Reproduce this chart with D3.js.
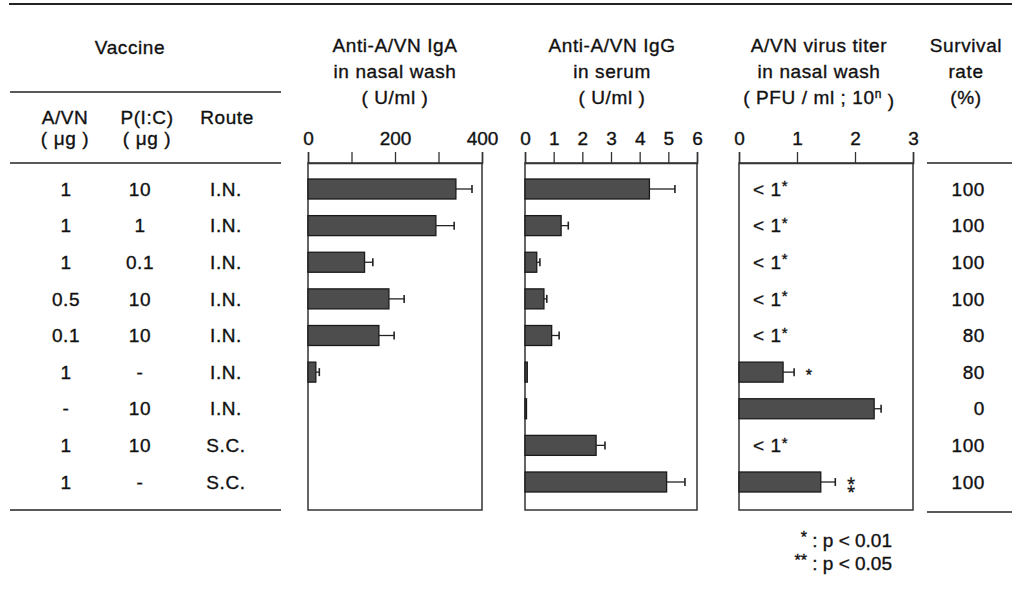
<!DOCTYPE html>
<html>
<head>
<meta charset="utf-8">
<script src="https://cdn.jsdelivr.net/npm/d3@7"></script>
<style>
  body { margin: 0; background: #fff; }
  text { font-family: "Liberation Sans", Arial, sans-serif; fill: #111; stroke: #111; stroke-width: 0.35; }
</style>
</head>
<body>
<div id="chart"></div>
<script>
const width = 1019
const height = 591

// table data
const avn = ["1", "1", "1", "0.5", "0.1", "1", "-", "1", "1"]
const pic = ["10", "1", "0.1", "10", "10", "-", "10", "10", "-"]
const route = ["I.N.", "I.N.", "I.N.", "I.N.", "I.N.", "I.N.", "I.N.", "S.C.", "S.C."]
const survival = ["100", "100", "100", "100", "80", "80", "0", "100", "100"]

// IgA in nasal wash (U/ml)
const igaMean = [340, 294, 130, 186, 163, 18, null, null, null]
const igaErr = [37, 42, 19, 35, 35, 8, null, null, null]
// IgG in serum (U/ml)
const iggMean = [4.34, 1.26, 0.41, 0.66, 0.93, 0.08, 0.02, 2.48, 4.94]
const iggErr = [0.89, 0.25, 0.11, 0.1, 0.26, 0, 0, 0.31, 0.64]
// virus titer (10^n PFU/ml)
const titerMean = [null, null, null, null, null, 0.76, 2.33, null, 1.41]
const titerErr = [null, null, null, null, null, 0.19, 0.12, null, 0.25]
const titerNote = ["< 1", "< 1", "< 1", "< 1", "< 1", "", "", "< 1", ""]
const titerStars = [0, 0, 0, 0, 0, 1, 0, 0, 2]

const rows = d3.range(9)

const svg = d3.select("#chart").append("svg").attr("width", width).attr("height", height)

const fs = 19
const boxTop = 163, boxBottom = 510

const y = d3.scalePoint().domain(rows).range([189, 482])
const barH = 20

// lines of the table
svg.append("line").attr("x1", 9).attr("x2", 1012).attr("y1", 4).attr("y2", 4)
    .attr("stroke", "#222").attr("stroke-width", 2)
;[92, 163, 510].forEach(yy => {
    svg.append("line").attr("x1", 10).attr("x2", 281).attr("y1", yy).attr("y2", yy)
        .attr("stroke", "#222").attr("stroke-width", 1.6)
})
;[163, 512].forEach(yy => {
    svg.append("line").attr("x1", 927).attr("x2", 1012).attr("y1", yy).attr("y2", yy)
        .attr("stroke", "#222").attr("stroke-width", 1.6)
})

function label(x, yy, txt, anchor) {
    return svg.append("text").attr("x", x).attr("y", yy).attr("dy", "0.35em")
        .attr("text-anchor", anchor || "middle").attr("font-size", fs)
        .attr("letter-spacing", 0.6).text(txt)
}

// headers
label(130, 47, "Vaccine")
label(65, 117, "A/VN"); label(65, 138, "( μg )")
label(147, 117, "P(I:C)"); label(147, 138, "( μg )")
label(227, 117, "Route")

label(395, 45, "Anti-A/VN IgA"); label(395, 71, "in nasal wash"); label(395, 97, "( U/ml )")
label(612, 45, "Anti-A/VN IgG"); label(612, 71, "in serum"); label(612, 97, "( U/ml )")
label(819, 45, "A/VN virus titer"); label(819, 71, "in nasal wash")
const pfu = label(819, 97, "( PFU / ml ; 10")
pfu.append("tspan").attr("dy", "-0.45em").attr("font-size", 12).text("n")
pfu.append("tspan").attr("dy", "0.45em").text(" )")
label(966, 45, "Survival"); label(966, 71, "rate"); label(966, 97, "(%)")

// table rows
rows.forEach(i => {
    label(66, y(i), avn[i])
    label(140, y(i), pic[i])
    label(226, y(i), route[i])
    label(985, y(i), survival[i], "end")
})

// panels
const panels = [
    { x0: 308, x1: 482, domain: [0, 400], ticks: [0, 100, 200, 300, 400], labels: [0, 200, 400], mean: igaMean, err: igaErr },
    { x0: 525, x1: 697, domain: [0, 6], ticks: [0, 1, 2, 3, 4, 5, 6], labels: [0, 1, 2, 3, 4, 5, 6], mean: iggMean, err: iggErr },
    { x0: 739, x1: 913, domain: [0, 3], ticks: [0, 1, 2, 3], labels: [0, 1, 2, 3], mean: titerMean, err: titerErr }
]

panels.forEach(p => {
    const x = d3.scaleLinear().domain(p.domain).range([p.x0, p.x1])
    const g = svg.append("g")

    g.append("rect").attr("x", p.x0).attr("y", boxTop)
        .attr("width", p.x1 - p.x0).attr("height", boxBottom - boxTop)
        .attr("fill", "none").attr("stroke", "#333").attr("stroke-width", 1.5)

    const axis = d3.axisTop(x).tickValues(p.ticks).tickSize(11).tickPadding(7)
        .tickFormat(d => p.labels.includes(d) ? d : "")
    const ax = g.append("g").attr("transform", `translate(0,${boxTop})`).call(axis)
    ax.select(".domain").attr("stroke", "#333").attr("stroke-width", 1.5)
    ax.selectAll(".tick line").attr("stroke", "#333").attr("stroke-width", 1.3)
    ax.selectAll(".tick text").attr("font-size", fs).attr("fill", "#111")
        .attr("font-family", "Liberation Sans, Arial, sans-serif")

    const data = rows.filter(i => p.mean[i] != null)

    g.selectAll("rect.bar").data(data).enter().append("rect")
        .attr("class", "bar")
        .attr("x", x(0))
        .attr("y", i => y(i) - barH / 2)
        .attr("width", i => Math.max(1.5, x(p.mean[i]) - x(0)))
        .attr("height", barH)
        .attr("fill", "#4d4d4d")
        .attr("stroke", "#1a1a1a").attr("stroke-width", 1.3)

    const errs = data.filter(i => p.err[i] > 0)
    g.selectAll("line.err").data(errs).enter().append("line")
        .attr("class", "err")
        .attr("x1", i => x(p.mean[i])).attr("x2", i => x(p.mean[i] + p.err[i]))
        .attr("y1", i => y(i)).attr("y2", i => y(i))
        .attr("stroke", "#222").attr("stroke-width", 1.3)
    g.selectAll("line.cap").data(errs).enter().append("line")
        .attr("class", "cap")
        .attr("x1", i => x(p.mean[i] + p.err[i])).attr("x2", i => x(p.mean[i] + p.err[i]))
        .attr("y1", i => y(i) - 4).attr("y2", i => y(i) + 4)
        .attr("stroke", "#222").attr("stroke-width", 1.6)

    p.x = x
})

// virus titer notes
const xt = panels[2].x
rows.forEach(i => {
    if (titerNote[i]) {
        const t = label(753, y(i), titerNote[i], "start")
        t.append("tspan").attr("dy", "-0.3em").attr("font-size", 15).text("*")
    }
    if (titerStars[i] === 1) {
        label(xt(titerMean[i] + titerErr[i]) + 15, y(i) + 3, "*").attr("font-size", 16)
    }
    if (titerStars[i] === 2) {
        // two asterisks aligned vertically
        label(xt(titerMean[i] + titerErr[i]) + 16, y(i) + 2, "\u2051")
            .attr("font-size", 15)
            .attr("stroke-width", 0)
            .attr("font-family", "DejaVu Sans, sans-serif")
    }
})

// footnote
const f1 = svg.append("text").attr("x", 892).attr("y", 546).attr("text-anchor", "end").attr("font-size", fs)
f1.append("tspan").attr("font-size", 16).attr("dy", "-0.2em").text("*")
f1.append("tspan").attr("dy", "0.2em").text(" : p < 0.01")
const f2 = svg.append("text").attr("x", 892).attr("y", 569).attr("text-anchor", "end").attr("font-size", fs)
f2.append("tspan").attr("font-size", 16).attr("dy", "-0.2em").text("**")
f2.append("tspan").attr("dy", "0.2em").text(" : p < 0.05")
</script>
</body>
</html>
